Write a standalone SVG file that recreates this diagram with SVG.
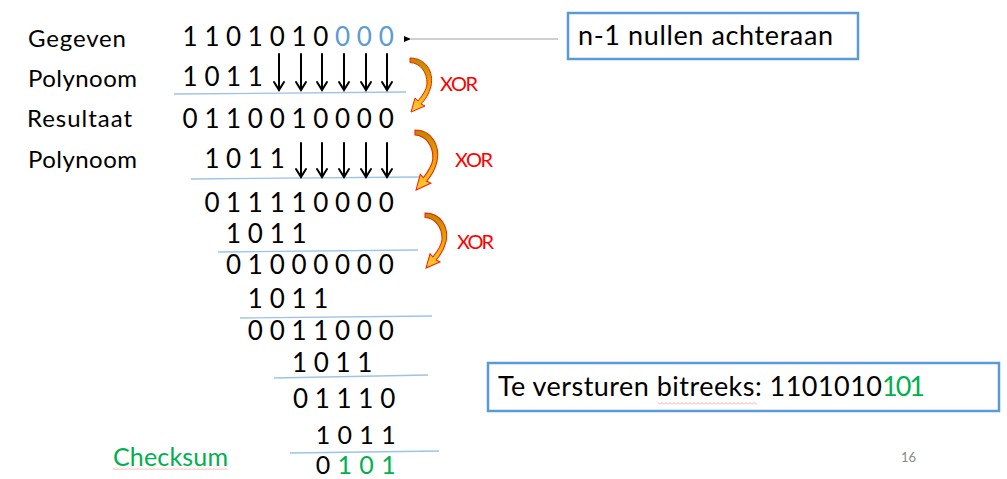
<svg xmlns="http://www.w3.org/2000/svg" width="1007" height="479" viewBox="0 0 1007 479">
<style>
.lbl{font-family:Lato,"Liberation Sans",sans-serif;font-size:24px;fill:#000}
.d{font-family:Lato,"Liberation Sans",sans-serif;font-size:26px;fill:#000;text-anchor:middle}
.sm{font-size:25px}
.xor{font-family:Lato,"Liberation Sans",sans-serif;font-size:20px;fill:#ff0000}
.box{fill:#fff;stroke:#5b9bd5;stroke-width:2.5}
.btxt{font-family:Lato,"Liberation Sans",sans-serif;font-size:27px;fill:#000}
.b{fill:#5b9bd5}
.g{fill:#00b050}
.rule{stroke:#9dc3e6;stroke-width:1.3;fill:none}
.down{stroke:#000;stroke-width:2;fill:none;stroke-linecap:round;stroke-linejoin:miter}
.curl{fill:url(#curlGrad);stroke:#ff1a00;stroke-width:1}
</style>
<defs>
<linearGradient id="curlGrad" x1="0" y1="0" x2="0" y2="1">
<stop offset="0" stop-color="#b88a00"/>
<stop offset="0.45" stop-color="#e0a400"/>
<stop offset="1" stop-color="#ffcc33"/>
</linearGradient>
<path id="curl" d="M0,0 C16,0 24,14 21,28 C19,36 15,42 11,46 L15,48 L1,54 L5,40 L8,43 C12,38 16.5,32 17,26 C17.5,14 10,5 0,4.5 Z"/>
<marker id="head" markerWidth="8" markerHeight="8" refX="1" refY="4" orient="auto" markerUnits="userSpaceOnUse">
<path d="M1,4 L8,1 L8,7 Z" fill="#000"/>
</marker>
<pattern id="wavy" width="4" height="3" patternUnits="userSpaceOnUse">
<path d="M0,2.5 L2,0.5 L4,2.5" fill="none" stroke="#f28b82" stroke-width="0.7"/>
</pattern>
</defs>
<rect width="1007" height="479" fill="#fff"/>

<g id="labels">
<text class="lbl" x="28" y="47" textLength="98">Gegeven</text>
<text class="lbl" x="28" y="87" textLength="109">Polynoom</text>
<text class="lbl" x="27" y="127" textLength="105">Resultaat</text>
<text class="lbl" x="28" y="168" textLength="109">Polynoom</text>
<text class="lbl g" x="113" y="466" textLength="115" style="font-size:25px">Checksum</text>
<rect x="113" y="467" width="115" height="3" fill="url(#wavy)"/>
</g>

<g id="rows">
<g id="r1">
<text class="d" x="190" y="46">1</text><text class="d" x="212" y="46">1</text><text class="d" x="233.6" y="46">0</text><text class="d" x="255.4" y="46">1</text><text class="d" x="277.2" y="46">0</text><text class="d" x="299" y="46">1</text><text class="d" x="320.8" y="46">0</text><text class="d b" x="342.6" y="46">0</text><text class="d b" x="364.4" y="46">0</text><text class="d b" x="386.2" y="46">0</text>
</g>
<g id="r2">
<text class="d" x="190" y="86">1</text><text class="d" x="212" y="86">0</text><text class="d" x="233.6" y="86">1</text><text class="d" x="255.4" y="86">1</text>
</g>
<g id="r3">
<text class="d" x="190" y="128">0</text><text class="d" x="212" y="128">1</text><text class="d" x="233.6" y="128">1</text><text class="d" x="255.4" y="128">0</text><text class="d" x="277.2" y="128">0</text><text class="d" x="299" y="128">1</text><text class="d" x="320.8" y="128">0</text><text class="d" x="342.6" y="128">0</text><text class="d" x="364.4" y="128">0</text><text class="d" x="386.2" y="128">0</text>
</g>
<g id="r4">
<text class="d" x="212" y="168">1</text><text class="d" x="233.6" y="168">0</text><text class="d" x="255.4" y="168">1</text><text class="d" x="277.2" y="168">1</text>
</g>
<g id="r5">
<text class="d" x="212" y="212">0</text><text class="d" x="233.6" y="212">1</text><text class="d" x="255.4" y="212">1</text><text class="d" x="277.2" y="212">1</text><text class="d" x="299" y="212">1</text><text class="d" x="320.8" y="212">0</text><text class="d" x="342.6" y="212">0</text><text class="d" x="364.4" y="212">0</text><text class="d" x="386.2" y="212">0</text>
</g>
<g id="r6">
<text class="d" x="233.6" y="243">1</text><text class="d" x="255.4" y="243">0</text><text class="d" x="277.2" y="243">1</text><text class="d" x="299" y="243">1</text>
</g>
<g id="r7">
<text class="d" x="233.6" y="274">0</text><text class="d" x="255.4" y="274">1</text><text class="d" x="277.2" y="274">0</text><text class="d" x="299" y="274">0</text><text class="d" x="320.8" y="274">0</text><text class="d" x="342.6" y="274">0</text><text class="d" x="364.4" y="274">0</text><text class="d" x="386.2" y="274">0</text>
</g>
<g id="r8">
<text class="d" x="255.4" y="308">1</text><text class="d" x="277.2" y="308">0</text><text class="d" x="299" y="308">1</text><text class="d" x="320.8" y="308">1</text>
</g>
<g id="r9">
<text class="d" x="255.4" y="340">0</text><text class="d" x="277.2" y="340">0</text><text class="d" x="299" y="340">1</text><text class="d" x="320.8" y="340">1</text><text class="d" x="342.6" y="340">0</text><text class="d" x="364.4" y="340">0</text><text class="d" x="386.2" y="340">0</text>
</g>
<g id="r10">
<text class="d" x="299.5" y="372">1</text><text class="d" x="321.3" y="372">0</text><text class="d" x="343.1" y="372">1</text><text class="d" x="364.9" y="372">1</text>
</g>
<g id="r11">
<text class="d" x="300.5" y="408">0</text><text class="d" x="322.3" y="408">1</text><text class="d" x="344.1" y="408">1</text><text class="d" x="365.9" y="408">1</text><text class="d" x="387.7" y="408">0</text>
</g>
<g id="r12">
<text class="d sm" x="323" y="444">1</text><text class="d sm" x="344.8" y="444">0</text><text class="d sm" x="366.6" y="444">1</text><text class="d sm" x="388.4" y="444">1</text>
</g>
<g id="r13">
<text class="d sm" x="323" y="474">0</text><text class="d sm g" x="344.8" y="474">1</text><text class="d sm g" x="366.6" y="474">0</text><text class="d sm g" x="388.4" y="474">1</text>
</g>
</g>

<g id="rules">
<line class="rule" x1="174" y1="94" x2="406" y2="92"/>
<line class="rule" x1="191" y1="179" x2="419" y2="177"/>
<line class="rule" x1="218" y1="252" x2="418" y2="250"/>
<line class="rule" x1="240" y1="318" x2="432" y2="316"/>
<line class="rule" x1="274" y1="378" x2="428" y2="375"/>
<line class="rule" x1="290" y1="453" x2="439" y2="451"/>
</g>

<g id="connectors">
<g id="down1">
<path class="down" d="M279,54 V90 M274,82 L279,90 L284,82"/>
<path class="down" d="M301,54 V90 M296,82 L301,90 L306,82"/>
<path class="down" d="M322,54 V90 M317,82 L322,90 L327,82"/>
<path class="down" d="M344,54 V90 M339,82 L344,90 L349,82"/>
<path class="down" d="M366,54 V90 M361,82 L366,90 L371,82"/>
<path class="down" d="M387,54 V90 M382,82 L387,90 L392,82"/>
</g>
<g id="down2">
<path class="down" d="M301,143 V177 M296,169 L301,177 L306,169"/>
<path class="down" d="M322,143 V177 M317,169 L322,177 L327,169"/>
<path class="down" d="M344,143 V177 M339,169 L344,177 L349,169"/>
<path class="down" d="M366,143 V177 M361,169 L366,177 L371,169"/>
<path class="down" d="M387,143 V177 M382,169 L387,177 L392,169"/>
</g>
<line x1="558" y1="39" x2="411" y2="39" stroke="#bfbfbf" stroke-width="1.5" marker-end="url(#head)"/>
<use href="#curl" class="curl" transform="translate(410,58)"/>
<use href="#curl" class="curl" transform="translate(415,130) scale(1.05,1.11)"/>
<use href="#curl" class="curl" transform="translate(425,213) scale(1,1.02)"/>
</g>

<g id="xor-labels">
<text class="xor" x="440" y="91" textLength="38">XOR</text>
<text class="xor" x="455" y="167" textLength="38">XOR</text>
<text class="xor" x="457" y="249" textLength="37">XOR</text>
</g>

<g id="box-nullen">
<rect class="box" x="568" y="13" width="290" height="46"/>
<text class="btxt" x="578" y="45" textLength="255">n-1 nullen achteraan</text>
</g>

<g id="box-bitreeks">
<rect class="box" x="488" y="363" width="511" height="48"/>
<text class="btxt" x="498" y="396" textLength="384">Te versturen bitreeks: 1101010</text>
<text class="btxt g" x="882" y="396" textLength="43">101</text>
<rect x="658" y="402" width="99" height="3" fill="url(#wavy)"/>
</g>

<text x="901" y="462" font-family="Lato,'Liberation Sans',sans-serif" font-size="13" fill="#898989">16</text>
</svg>
